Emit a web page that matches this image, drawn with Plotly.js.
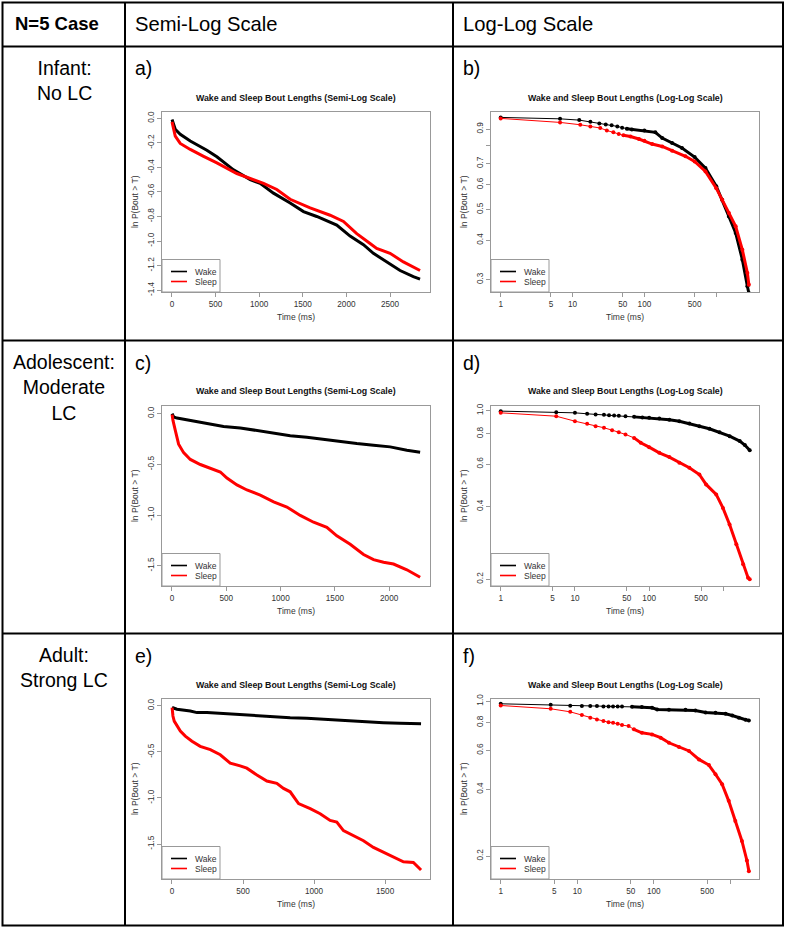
<!DOCTYPE html>
<html><head><meta charset="utf-8">
<script src="https://cdn.plot.ly/plotly-3.0.1.min.js"></script>
<style>html,body{margin:0;padding:0;background:#fff}#chart{width:786px;height:930px}</style>
</head><body><div id="chart"></div>
<script>
// ---------- DATA ----------
// a) Infant, semi-log: time (ms) and ln P(Bout > T)
const aWakeT   = [1, 38, 95, 210, 400, 515, 706, 897, 1011, 1164, 1355, 1508, 1660, 1889, 2042, 2195, 2309, 2462, 2615, 2767, 2844];
const aWakeLnP = [-0.01, -0.09, -0.13, -0.186, -0.26, -0.314, -0.42, -0.50, -0.53, -0.61, -0.69, -0.76, -0.80, -0.87, -0.96, -1.03, -1.10, -1.17, -1.24, -1.29, -1.31];
const aSleepT   = [1, 38, 95, 210, 363, 515, 744, 935, 1050, 1202, 1355, 1584, 1813, 1966, 2118, 2271, 2347, 2500, 2653, 2844];
const aSleepLnP = [-0.03, -0.145, -0.205, -0.254, -0.31, -0.363, -0.45, -0.50, -0.53, -0.58, -0.66, -0.73, -0.79, -0.84, -0.94, -1.02, -1.06, -1.10, -1.17, -1.24];
// b) Infant, log-log: time (ms) and P(Bout > T)
const bWakeT = [1, 6.7, 12.4, 17.7, 23.6, 29, 35, 42, 49, 57, 67, 100, 142, 177, 243, 334, 500, 708, 1000, 1208, 1500, 1863, 2310, 2713, 2844];
const bWakeP = [0.98, 0.970, 0.961, 0.949, 0.938, 0.931, 0.925, 0.918, 0.909, 0.902, 0.898, 0.891, 0.879, 0.843, 0.813, 0.784, 0.734, 0.677, 0.593, 0.537, 0.476, 0.422, 0.347, 0.286, 0.272];
const bSleepT = [1, 6.7, 12.8, 17.7, 24.3, 30, 37, 44, 51, 64, 84, 100, 128, 177, 243, 373, 500, 708, 1000, 1208, 1500, 1863, 2310, 2713, 2844];
const bSleepP = [0.973, 0.945, 0.929, 0.918, 0.907, 0.891, 0.879, 0.868, 0.860, 0.853, 0.837, 0.826, 0.807, 0.793, 0.769, 0.738, 0.711, 0.661, 0.585, 0.537, 0.488, 0.443, 0.373, 0.315, 0.289];
// c) Adolescent, semi-log
const cWakeT   = [1, 15, 46, 169, 322, 475, 629, 782, 936, 1089, 1242, 1396, 1549, 1702, 1856, 2009, 2163, 2285];
const cWakeLnP = [0, -0.033, -0.044, -0.067, -0.094, -0.127, -0.141, -0.167, -0.194, -0.218, -0.234, -0.254, -0.281, -0.295, -0.311, -0.328, -0.362, -0.382];
const cSleepT   = [1, 9, 31, 61, 107, 169, 261, 353, 445, 506, 598, 690, 813, 936, 1058, 1181, 1304, 1426, 1518, 1641, 1764, 1856, 1948, 2040, 2163, 2285];
const cSleepLnP = [-0.01, -0.067, -0.167, -0.301, -0.385, -0.452, -0.502, -0.536, -0.576, -0.636, -0.703, -0.753, -0.803, -0.870, -0.921, -1.004, -1.071, -1.122, -1.205, -1.289, -1.389, -1.44, -1.466, -1.483, -1.54, -1.614];
// d) Adolescent, log-log
const dWakeT = [1, 5.6, 10, 14.6, 19, 24.6, 28.8, 33.7, 39, 48, 62.6, 81, 100, 137, 187, 255, 348, 475, 648, 888, 1214, 1660, 1945, 2265];
const dWakeP = [0.994, 0.984, 0.978, 0.969, 0.963, 0.960, 0.956, 0.953, 0.950, 0.947, 0.941, 0.935, 0.933, 0.927, 0.915, 0.903, 0.884, 0.861, 0.840, 0.813, 0.783, 0.747, 0.719, 0.684];
const dSleepT = [1, 5.6, 10, 14.6, 19, 24.6, 31.7, 39, 48, 62.6, 77, 100, 137, 187, 255, 348, 475, 585, 800, 986, 1212, 1495, 1845, 2150, 2265];
const dSleepP = [0.978, 0.947, 0.903, 0.881, 0.861, 0.848, 0.829, 0.813, 0.796, 0.770, 0.735, 0.705, 0.668, 0.641, 0.607, 0.579, 0.543, 0.494, 0.449, 0.395, 0.337, 0.279, 0.231, 0.203, 0.200];
// e) Adult, semi-log
const eWakeT   = [1, 35, 129, 176, 246, 363, 480, 598, 715, 832, 949, 1066, 1137, 1230, 1348, 1488, 1605, 1699, 1753];
const eWakeLnP = [-0.018, -0.037, -0.055, -0.073, -0.073, -0.084, -0.102, -0.110, -0.117, -0.128, -0.135, -0.146, -0.157, -0.165, -0.176, -0.183, -0.190, -0.190, -0.194];
const eSleepT   = [1, 7, 16, 35, 59, 94, 141, 199, 270, 340, 410, 480, 527, 598, 668, 738, 785, 832, 891, 973, 1043, 1113, 1160, 1207, 1277, 1348, 1418, 1488, 1558, 1629, 1699, 1734, 1753];
const eSleepLnP = [-0.018, -0.110, -0.165, -0.220, -0.274, -0.329, -0.384, -0.439, -0.476, -0.531, -0.622, -0.651, -0.677, -0.750, -0.816, -0.841, -0.896, -0.933, -1.061, -1.116, -1.171, -1.244, -1.262, -1.354, -1.409, -1.464, -1.537, -1.592, -1.647, -1.694, -1.701, -1.756, -1.782];
// f) Adult, log-log
const fWakeT = [1, 4.5, 8.1, 11.5, 14.8, 18.1, 22, 25.7, 29.4, 33.8, 38.5, 52, 70, 95, 111, 158, 260, 350, 476, 642, 869, 1062, 1296, 1586, 1753];
const fWakeP = [0.973, 0.963, 0.953, 0.950, 0.950, 0.950, 0.946, 0.946, 0.946, 0.946, 0.946, 0.943, 0.940, 0.933, 0.917, 0.914, 0.914, 0.908, 0.889, 0.886, 0.877, 0.862, 0.841, 0.824, 0.819];
const fSleepT = [1, 4.5, 8.1, 11.5, 14.8, 18.1, 22, 25.7, 29.4, 33.8, 38.5, 47, 55, 70, 95, 123, 158, 214, 289, 390, 526, 642, 783, 955, 1165, 1421, 1652, 1753];
const fSleepP = [0.956, 0.924, 0.895, 0.865, 0.841, 0.827, 0.813, 0.804, 0.799, 0.791, 0.780, 0.772, 0.746, 0.720, 0.708, 0.684, 0.649, 0.621, 0.596, 0.546, 0.515, 0.468, 0.422, 0.355, 0.288, 0.234, 0.191, 0.171];

// tick labels
const semiXTicksA = [0, 500, 1000, 1500, 2000, 2500];
const semiXTicksC = [0, 500, 1000, 1500, 2000];
const semiXTicksE = [0, 500, 1000, 1500];
const semiYTicksA = [0, -0.2, -0.4, -0.6, -0.8, -1.0, -1.2, -1.4];
const semiYTicksCE = [0, -0.5, -1.0, -1.5];
const logXTicks = [1, 5, 10, 50, 100, 500, 1000];
const logXTickText = ['1', '5', '10', '50', '100', '500', ''];
const logYTicksB = [0.3, 0.4, 0.5, 0.6, 0.7, 0.8, 0.9];
const logYTickTextB = ['0.3', '0.4', '0.5', '0.6', '0.7', '', '0.9'];
const logYTicksDF = [0.2, 0.4, 0.6, 0.8, 1.0];

const seriesNames = ['Wake', 'Sleep'];
const rowLabels = ['Infant:<br>No LC', 'Adolescent:<br>Moderate<br>LC', 'Adult:<br>Strong LC'];
const panelLetters = ['a)', 'b)', 'c)', 'd)', 'e)', 'f)'];
const headers = ['N=5 Case', 'Semi-Log Scale', 'Log-Log Scale'];
const plotTitles = ['Wake and Sleep Bout Lengths (Semi-Log Scale)', 'Wake and Sleep Bout Lengths (Log-Log Scale)'];

// ---------- LAYOUT HELPERS ----------
const W = 786, H = 930;
const F = 'Liberation Sans, Arial, Helvetica, sans-serif';
const px = v => v / W;
const py = v => 1 - v / H;
const neg = v => (v < 0 ? '-' : '') + Math.abs(v).toFixed(1);

const rowTop = [46.5, 340.5, 633.5];
const colX = [[162, 430], [491, 759]];
const COLORS = ['#000000', '#ff0000'];

const panels = [
  {semi: true,  T: [aWakeT, aSleepT], V: [aWakeLnP, aSleepLnP], xr: [-114, 2958], yr: [-1.415, 0.055], xt: semiXTicksA, yt: semiYTicksA},
  {semi: false, T: [bWakeT, bSleepT], V: [bWakeP, bSleepP], xr: [-0.135, 3.595], yr: [-0.562, 0.010], xt: logXTicks, xtt: logXTickText, yt: logYTicksB, ytt: logYTickTextB},
  {semi: true,  T: [cWakeT, cSleepT], V: [cWakeLnP, cSleepLnP], xr: [-92, 2376], yr: [-1.70, 0.08], xt: semiXTicksC, yt: semiYTicksCE},
  {semi: false, T: [dWakeT, dSleepT], V: [dWakeP, dSleepP], xr: [-0.131, 3.48], yr: [-0.727, 0.0207], xt: logXTicks, xtt: logXTickText, yt: logYTicksDF},
  {semi: true,  T: [eWakeT, eSleepT], V: [eWakeLnP, eSleepLnP], xr: [-70, 1816], yr: [-1.88, 0.08], xt: semiXTicksE, yt: semiYTicksCE},
  {semi: false, T: [fWakeT, fSleepT], V: [fWakeP, fSleepP], xr: [-0.127, 3.376], yr: [-0.8025, 0.012], xt: logXTicks, xtt: logXTickText, yt: logYTicksDF}
];

const traces = [];
const layout = {
  width: W, height: H, margin: {l: 0, r: 0, t: 0, b: 0},
  paper_bgcolor: '#fff', plot_bgcolor: '#fff',
  font: {family: F, color: '#333'},
  showlegend: false, shapes: [], annotations: []
};

const axisBase = () => ({
  showline: true, mirror: true, linecolor: '#999', linewidth: 1,
  ticks: 'outside', ticklen: 4, tickwidth: 1, tickcolor: '#999',
  showgrid: false, zeroline: false, fixedrange: true,
  tickfont: {family: F, size: 8.2, color: '#333'}
});

panels.forEach((p, i) => {
  const k = i + 1;
  const row = Math.floor(i / 2), col = i % 2;
  const top = rowTop[row] + 65, bot = rowTop[row] + 245.5;
  const xs = k === 1 ? '' : String(k);
  const xa = 'x' + xs, ya = 'y' + xs;

  layout['xaxis' + xs] = Object.assign(axisBase(), {
    domain: [px(colX[col][0]), px(colX[col][1])], anchor: ya,
    type: p.semi ? 'linear' : 'log', range: p.xr,
    tickmode: 'array', tickvals: p.xt, ticktext: p.xtt || p.xt.map(String),
    title: {text: 'Time (ms)', font: {family: F, size: 8.5, color: '#333'}, standoff: 6}
  });
  layout['yaxis' + xs] = Object.assign(axisBase(), {
    domain: [py(bot), py(top)], anchor: xa,
    type: p.semi ? 'linear' : 'log', range: p.yr,
    tickmode: 'array', tickvals: p.yt, ticktext: p.ytt || p.yt.map(neg), tickangle: -90,
    title: {text: 'ln P(Bout > T)', font: {family: F, size: 8.5, color: '#333'}, standoff: 6}
  });

  [0, 1].forEach(s => {
    const color = COLORS[s];
    const T = p.T[s], V = p.V[s];
    if (p.semi) {
      traces.push({x: T, y: V, xaxis: xa, yaxis: ya, mode: 'lines', name: seriesNames[s],
        line: {color: color, width: 3}, hoverinfo: 'skip'});
    } else {
      traces.push({x: T, y: V, xaxis: xa, yaxis: ya, mode: 'lines+markers', name: seriesNames[s],
        line: {color: color, width: 1}, marker: {color: color, size: 4}, hoverinfo: 'skip'});
      const Td = [], Vd = [];
      T.forEach((t, j) => { if (t >= 50) { Td.push(t); Vd.push(V[j]); } });
      traces.push({x: Td, y: Vd, xaxis: xa, yaxis: ya, mode: 'lines', name: seriesNames[s],
        line: {color: color, width: 3}, hoverinfo: 'skip'});
    }
  });

  // legend box (R style, bottom-left of the plot frame)
  const lx = colX[col][0];
  layout.shapes.push({type: 'rect', xref: 'paper', yref: 'paper', layer: 'above',
    x0: px(lx), x1: px(lx + 58), y0: py(bot), y1: py(bot - 32.5),
    line: {color: '#999', width: 1}, fillcolor: '#fff'});
  [0, 1].forEach(s => {
    const yy = bot - (s === 0 ? 20.5 : 10.5);
    layout.shapes.push({type: 'line', xref: 'paper', yref: 'paper', layer: 'above',
      x0: px(lx + 9), x1: px(lx + 25), y0: py(yy), y1: py(yy),
      line: {color: COLORS[s], width: 1.6}});
    layout.annotations.push({text: seriesNames[s], xref: 'paper', yref: 'paper',
      x: px(lx + 31), y: py(yy), xanchor: 'left', yanchor: 'middle', showarrow: false,
      font: {family: F, size: 8.5, color: '#333'}});
  });

  // plot title
  layout.annotations.push({
    text: plotTitles[col], xref: 'paper', yref: 'paper',
    x: px((colX[col][0] + colX[col][1]) / 2), y: py(rowTop[row] + 51),
    xanchor: 'center', yanchor: 'middle', showarrow: false,
    font: {family: F, size: 8.8, color: '#111', weight: 'bold'}
  });
  // panel letter
  layout.annotations.push({
    text: panelLetters[i], xref: 'paper', yref: 'paper',
    x: px(col === 0 ? 133 : 461), y: py(rowTop[row] + 22),
    xanchor: 'left', yanchor: 'middle', showarrow: false,
    font: {family: F, size: 19.5, color: '#000'}
  });
});

// table text
const rowCenters = [rowTop[0] + 33.5, rowTop[1] + 46.5, rowTop[2] + 34];
rowLabels.forEach((t, r) => layout.annotations.push({
  text: t, xref: 'paper', yref: 'paper', x: px(64), y: py(rowCenters[r]),
  xanchor: 'center', yanchor: 'middle', align: 'center', showarrow: false,
  font: {family: F, size: 19.5, color: '#000'}
}));
layout.annotations.push({text: headers[0], xref: 'paper', yref: 'paper', x: px(57), y: py(24),
  xanchor: 'center', yanchor: 'middle', showarrow: false, font: {family: F, size: 18.5, color: '#000', weight: 'bold'}});
layout.annotations.push({text: headers[1], xref: 'paper', yref: 'paper', x: px(133), y: py(24),
  xanchor: 'left', yanchor: 'middle', showarrow: false, font: {family: F, size: 20.2, color: '#000'}});
layout.annotations.push({text: headers[2], xref: 'paper', yref: 'paper', x: px(461), y: py(24),
  xanchor: 'left', yanchor: 'middle', showarrow: false, font: {family: F, size: 20.2, color: '#000'}});

// table grid lines
const lineStyle = {color: '#000', width: 2};
layout.shapes.push({type: 'rect', xref: 'paper', yref: 'paper', x0: px(2.5), x1: px(783), y0: py(2.5), y1: py(925.5), line: lineStyle});
[125, 453].forEach(x => layout.shapes.push({type: 'line', xref: 'paper', yref: 'paper', x0: px(x), x1: px(x), y0: py(2.5), y1: py(925.5), line: lineStyle}));
[46.5, 340.5, 633.5].forEach(y => layout.shapes.push({type: 'line', xref: 'paper', yref: 'paper', x0: px(2.5), x1: px(783), y0: py(y), y1: py(y), line: lineStyle}));

Plotly.newPlot('chart', traces, layout, {staticPlot: true, displayModeBar: false});
</script></body></html>
